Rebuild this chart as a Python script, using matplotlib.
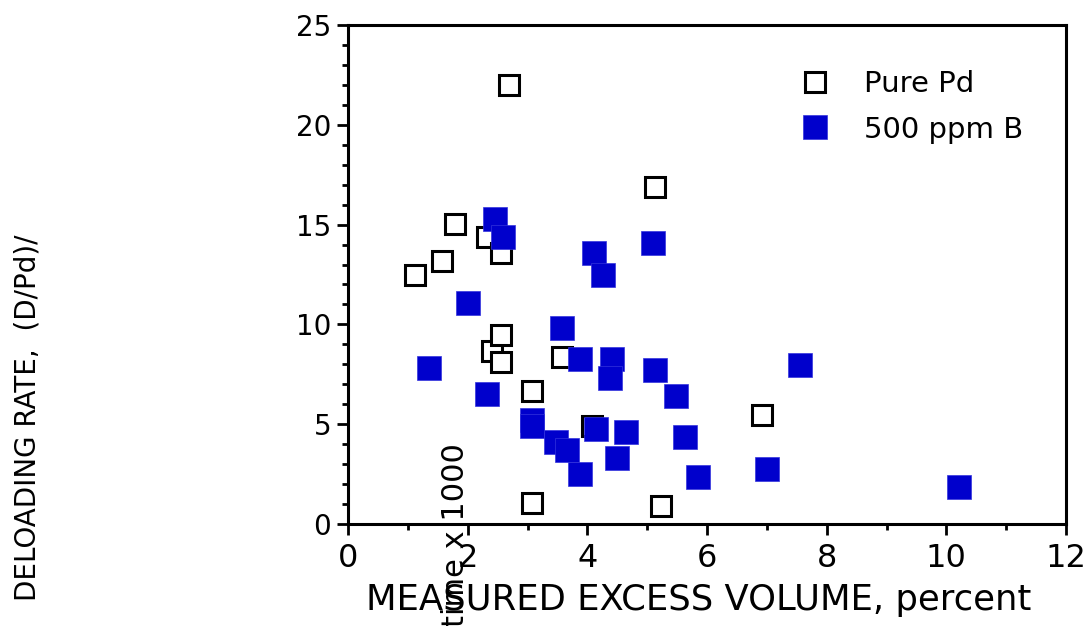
import matplotlib
matplotlib.use("Agg")
import matplotlib.pyplot as plt
from matplotlib.ticker import MultipleLocator

plt.rcParams['font.family'] = ['DejaVu Sans']

# Data
pure_x = [2.40, 2.32, 2.69, 5.13, 1.79, 2.55, 1.57, 1.12, 2.55, 2.55, 3.57, 3.08, 4.07, 3.08, 5.23, 6.92]
pure_y = [8.65, 14.4, 22.0, 16.9, 15.05, 13.56, 13.2, 12.5, 9.45, 8.1, 8.37, 6.64, 4.9, 1.04, 0.91, 5.44]

boron_x = [2.46, 2.59, 4.11, 4.26, 5.09, 2.01, 1.35, 3.57, 3.88, 4.42, 4.38, 5.13, 5.49, 2.32,
           3.08, 3.08, 3.48, 3.66, 3.88, 4.15, 4.65, 4.50, 5.63, 5.85, 7.55, 7.00, 10.22]
boron_y = [15.3, 14.4, 13.6, 12.5, 14.1, 11.05, 7.83, 9.84, 8.25, 8.25, 7.32, 7.7, 6.39, 6.5,
           5.19, 4.93, 4.12, 3.7, 2.52, 4.78, 4.63, 3.32, 4.38, 2.37, 7.98, 2.76, 1.83]

series_labels = ["Pure Pd", "500 ppm B"]
x_ticks = [0, 2, 4, 6, 8, 10, 12]
y_ticks = [0, 5, 10, 15, 20, 25]

W, H = 1092, 626
fig = plt.figure(figsize=(W / 100, H / 100), dpi=100)
fig.patch.set_facecolor('white')

left, right, top, bottom = 348, 1066, 25, 524
ax = fig.add_axes([left / W, 1 - bottom / H, (right - left) / W, (bottom - top) / H])

ax.plot(pure_x, pure_y, 's', linestyle='none', markersize=14.5, markerfacecolor='white',
        markeredgecolor='black', markeredgewidth=2.2, label=series_labels[0], zorder=3)
ax.plot(boron_x, boron_y, 's', linestyle='none', markersize=17, markerfacecolor='#0000CC',
        markeredgecolor='#3333DD', markeredgewidth=0.5, label=series_labels[1], zorder=4)

ax.set_xlim(0, 12)
ax.set_ylim(0, 25)
ax.set_xticks(x_ticks)
ax.set_xticklabels([str(t) for t in x_ticks])
ax.set_yticks(y_ticks)
ax.set_yticklabels([str(t) for t in y_ticks])
ax.xaxis.set_minor_locator(MultipleLocator(1))
ax.yaxis.set_minor_locator(MultipleLocator(1))

ax.tick_params(axis='both', which='major', direction='out', length=8, width=2,
               top=False, right=False, color='black')
ax.tick_params(axis='both', which='minor', direction='out', length=4.5, width=2,
               top=False, right=False)
ax.tick_params(axis='x', which='major', labelsize=23, pad=6)
ax.tick_params(axis='y', which='major', labelsize=20, pad=4)

for sp in ax.spines.values():
    sp.set_linewidth(2.2)
    sp.set_color('black')

leg = ax.legend(loc='upper left', bbox_to_anchor=(800 / W, 1 - 70 / H),
                bbox_transform=fig.transFigure, frameon=False, fontsize=21,
                handlelength=1.0, handletextpad=1.21, borderpad=0, borderaxespad=0,
                labelspacing=0.6, numpoints=1)

fig.text(699 / W, 1 - 600 / H, "MEASURED EXCESS VOLUME, percent", fontsize=25.5,
         ha='center', va='center')
fig.text(28 / W, 1 - 418 / H, "DELOADING RATE,  (D/Pd)/", fontsize=20,
         rotation=90, ha='center', va='center')
fig.text(456 / W, 1 - 443 / H, "time x 1000", fontsize=22,
         rotation=90, ha='center', va='top')

fig.savefig("out.png", dpi=100, facecolor='white')
